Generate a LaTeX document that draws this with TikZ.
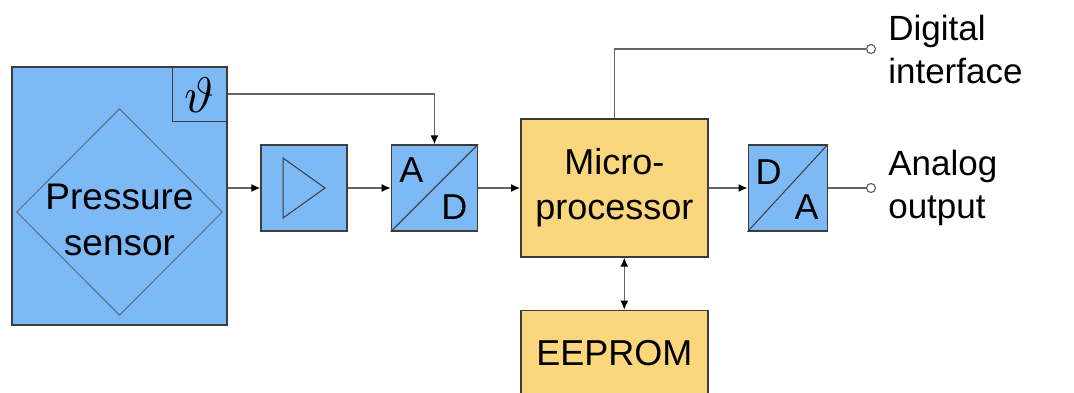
\documentclass[tikz,border=0pt]{standalone}
\usepackage{fontspec}
\setmainfont{Liberation Sans}
\usetikzlibrary{arrows.meta,positioning}
\definecolor{sensblue}{RGB}{125,185,245}
\definecolor{chipyellow}{RGB}{250,215,125}
\definecolor{edgegray}{RGB}{60,60,60}
\definecolor{wiregray}{RGB}{100,100,100}

\begin{document}
\begin{tikzpicture}[x=1pt,y=-1pt,->,>={Latex[length=9pt,width=8pt,color=black]},node distance=43pt,
  wire/.style={draw=wiregray,line width=1.4pt},
  bluebox/.style={draw=edgegray,line width=1.4pt,fill=sensblue,minimum width=86pt,minimum height=86pt,inner sep=0pt},
  chip/.style={draw=edgegray,line width=1.4pt,fill=chipyellow,minimum width=187pt,align=center,font=\fontsize{36}{45}\selectfont},
  conv/.style={font=\fontsize{36}{36}\selectfont,inner sep=0pt},
  term/.style={circle,draw=wiregray,fill=white,line width=1.2pt,minimum size=9pt,inner sep=0pt},
  outlabel/.style={align=left,inner sep=0pt,font=\fontsize{35}{43}\selectfont}]
\useasboundingbox (0,0) rectangle (1074,392);

% sensor with temperature cell
\node[draw=edgegray,line width=1.4pt,fill=sensblue,minimum width=215pt,minimum height=258pt,inner sep=0pt] (sensor) at (119.5,196) {};
\node[draw=edgegray,line width=1pt,minimum width=55pt,minimum height=54pt,inner sep=0pt] (theta) at (199.5,94) {};
\node[inner sep=0pt] (thetasym) at ([yshift=-1pt]theta.center) {\scalebox{5}{$\vartheta$}};
\node[minimum width=205pt,minimum height=206pt,inner sep=0pt] (diam) at (119.5,212) {};
\draw[-,draw=edgegray!60!sensblue,line width=1pt] (diam.north) -- (diam.east) -- (diam.south) -- (diam.west) -- cycle;
\node[align=center,font=\fontsize{37}{46}\selectfont] (plabel) at ([yshift=-8pt]diam.center) {Pressure\\sensor};

% signal chain
\node[bluebox] (amp) at (304,188) {};
\draw[-,draw=edgegray,line width=1pt] ([xshift=-21pt,yshift=-30pt]amp.center) -- ([xshift=21pt]amp.center) -- ([xshift=-21pt,yshift=30pt]amp.center) -- cycle;
\node[bluebox] (ad) [right=of amp] {};
\draw[-,draw=edgegray,line width=1pt] (ad.south west) -- (ad.north east);
\node[conv] at ([xshift=-23pt,yshift=18pt]ad.center) {A};
\node[conv] at ([xshift=20pt,yshift=-19pt]ad.center) {D};

\node[chip,minimum height=138pt] (micro) [right=42pt of ad] {Micro-\\processor};
\node[bluebox,minimum width=79pt] (da) [right=39pt of micro] {};
\draw[-,draw=edgegray,line width=1pt] (da.south west) -- (da.north east);
\node[conv] at ([xshift=-19pt,yshift=16pt]da.center) {D};
\node[conv] at ([xshift=19pt,yshift=-19pt]da.center) {A};
\node[chip,minimum height=86pt] (eeprom) [below=52pt of micro] {EEPROM};

% terminals
\node[term] (dig) at (871,49) {};
\node[outlabel,anchor=west] (diglabel) at ([xshift=12pt]dig.east) {Digital\\interface};
\node[term] (ana) at (871,188) {};
\node[outlabel,anchor=west] (analabel) at ([xshift=12pt]ana.east) {Analog\\output};

% connectors
\draw[wire] (sensor.east |- amp.west) -- (amp.west);
\draw[wire] (theta.east) -| (ad.north);
\draw[wire] (amp) -- (ad);
\draw[wire] (ad) -- (micro);
\draw[wire] (micro) -- (da);
\draw[wire,-] (da) -- (ana);
\draw[wire,-] (micro.north) |- (dig);
\draw[wire,<->] ([xshift=10pt]micro.south) -- ([xshift=10pt]eeprom.north);
\end{tikzpicture}
\end{document}
